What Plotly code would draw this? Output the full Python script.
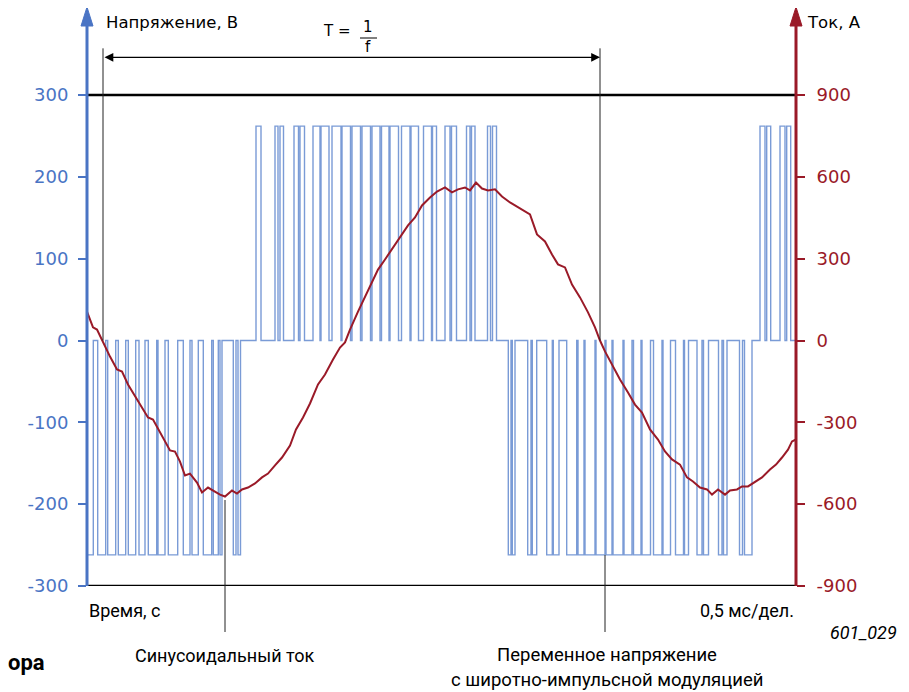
import plotly.graph_objects as go

# ---------------- data ----------------
# time axis in ms (0,5 ms per division); the plot spans 0 .. 7.09
T_MAX = 7.09

# sinusoidal current, A
current_t = [0.00, 0.06, 0.10, 0.16, 0.23, 0.30, 0.35, 0.41, 0.48, 0.53, 0.61, 0.66,
             0.73, 0.78, 0.83, 0.88, 0.93, 0.98, 1.03, 1.10, 1.15, 1.21, 1.28, 1.33,
             1.38, 1.45, 1.50, 1.55, 1.61, 1.68, 1.75, 1.81, 1.88, 1.95, 2.03, 2.09,
             2.16, 2.23, 2.31, 2.38, 2.46, 2.53, 2.58, 2.63, 2.71, 2.78, 2.85, 2.91,
             2.98, 3.05, 3.13, 3.21, 3.28, 3.35, 3.43, 3.50, 3.58, 3.65, 3.71, 3.78,
             3.83, 3.89, 3.95, 4.01, 4.08, 4.15, 4.23, 4.31, 4.38, 4.43, 4.50, 4.58,
             4.65, 4.71, 4.78, 4.85, 4.93, 5.01, 5.08, 5.13, 5.18, 5.25, 5.33, 5.41,
             5.48, 5.55, 5.63, 5.71, 5.78, 5.85, 5.93, 6.00, 6.06, 6.13, 6.20, 6.25,
             6.31, 6.38, 6.43, 6.50, 6.55, 6.61, 6.68, 6.75, 6.83, 6.89, 6.95, 7.01,
             7.05, 7.09]
current_a = [106, 48, 40, -7, -59, -106, -114, -161, -205, -235, -282, -290,
             -337, -367, -403, -407, -444, -495, -488, -521, -557, -539, -554, -565,
             -572, -550, -561, -546, -539, -524, -502, -488, -458, -429, -385, -326,
             -282, -231, -161, -125, -70, -26, -7, 40, 106, 158, 213, 260,
             297, 334, 378, 422, 451, 495, 524, 546, 561, 543, 554, 561,
             550, 579, 557, 550, 554, 528, 506, 488, 473, 462, 389, 363,
             315, 279, 268, 205, 158, 103, 48, 0, -40, -88, -143, -191,
             -235, -264, -326, -363, -407, -436, -455, -502, -517, -539, -546, -565,
             -546, -565, -550, -546, -535, -535, -517, -502, -473, -455, -429, -400,
             -370, -363]

# PWM voltage pulses: start, end (ms) and level (V)
pulse_start = [0.000, 0.107, 0.207, 0.313, 0.413, 0.520, 0.613, 0.710, 0.813, 0.963,
               1.050, 1.163, 1.263, 1.330, 1.463, 1.510,
               1.690, 1.880, 1.930, 2.070, 2.130, 2.260, 2.340, 2.450, 2.550, 2.650,
               2.750, 2.850, 2.945, 3.030, 3.145, 3.240, 3.365, 3.455, 3.580, 3.645,
               3.795, 3.845, 4.005, 4.055,
               4.213, 4.253, 4.407, 4.453, 4.597, 4.663, 4.797, 4.910, 4.980, 5.090,
               5.190, 5.260, 5.370, 5.465, 5.550, 5.665, 5.760, 5.885, 5.975, 6.100,
               6.165, 6.315, 6.365, 6.525, 6.575,
               6.730, 6.797, 6.930, 6.997]
pulse_end = [0.063, 0.187, 0.287, 0.387, 0.487, 0.580, 0.697, 0.780, 0.907, 1.030,
             1.113, 1.247, 1.313, 1.350, 1.490, 1.535,
             1.740, 1.910, 1.965, 2.115, 2.175, 2.330, 2.420, 2.540, 2.635, 2.735,
             2.835, 2.930, 3.020, 3.115, 3.230, 3.315, 3.445, 3.495, 3.630, 3.695,
             3.830, 3.880, 4.035, 4.095,
             4.240, 4.280, 4.440, 4.497, 4.653, 4.720, 4.897, 4.970, 5.080, 5.180,
             5.250, 5.360, 5.450, 5.540, 5.635, 5.750, 5.835, 5.965, 6.015, 6.150,
             6.215, 6.350, 6.400, 6.555, 6.650,
             6.780, 6.837, 6.980, 7.037]
pulse_level = [-262] * 16 + [262] * 24 + [-262] * 25 + [262] * 4

volt_ticks = [-300, -200, -100, 0, 100, 200, 300]
amp_ticks = [-900, -600, -300, 0, 300, 600, 900]

# ---------------- build PWM step line ----------------
pwm_x, pwm_y = [0.0], [0]
for s, e, lv in zip(pulse_start, pulse_end, pulse_level):
    pwm_x += [s, s, e, e]
    pwm_y += [0, lv, lv, 0]
pwm_x.append(T_MAX)
pwm_y.append(0)

BLUE = "#4a74c4"
BLUE_LINE = "#7a9bd6"
RED = "#9a1a28"
FONT = "DejaVu Sans"
FONT2 = "Roboto"

fig = go.Figure()
fig.add_trace(go.Scatter(x=pwm_x, y=pwm_y, mode="lines",
                         line=dict(color=BLUE_LINE, width=1.4),
                         hoverinfo="skip", showlegend=False, yaxis="y"))
fig.add_trace(go.Scatter(x=current_t, y=current_a, mode="lines",
                         line=dict(color=RED, width=2),
                         hoverinfo="skip", showlegend=False, yaxis="y2"))

# page is drawn with an 8 px body margin; plot area on page: x 87..796, y 8..586
Y_TOP = 406.3
fig.update_layout(
    width=901, height=684,
    margin=dict(l=79, r=113, t=0, b=106),
    paper_bgcolor="white", plot_bgcolor="white",
    xaxis=dict(range=[0, T_MAX], showgrid=False, zeroline=False,
               showticklabels=False, ticks="", showline=False, fixedrange=True),
    yaxis=dict(range=[-300, Y_TOP], tickvals=volt_ticks,
               ticktext=[str(v) for v in volt_ticks],
               showgrid=False, zeroline=False, showline=False,
               ticks="outside", ticklen=8, tickwidth=2, tickcolor=BLUE,
               tickfont=dict(family=FONT, size=18, color=BLUE),
               ticklabelstandoff=6),
    yaxis2=dict(range=[-900, 3 * Y_TOP], tickvals=amp_ticks,
                ticktext=[str(v) for v in amp_ticks],
                overlaying="y", side="right",
                showgrid=False, zeroline=False, showline=False,
                ticks="outside", ticklen=8, tickwidth=2, tickcolor=RED,
                tickfont=dict(family=FONT, size=18, color=RED),
                ticklabelstandoff=8),
)

# helpers: page pixel -> paper coordinates
def px(xp):
    return (xp - 87) / 709.0

def py(yp):
    return (586 - yp) / 578.0

shapes = []
shapes.append(dict(type="line", xref="paper", yref="y", x0=0, x1=1, y0=300, y1=300,
                   line=dict(color="black", width=2.5)))
shapes.append(dict(type="line", xref="paper", yref="y", x0=0, x1=1, y0=-300, y1=-300,
                   line=dict(color="black", width=2.5)))
shapes.append(dict(type="line", xref="paper", yref="paper", x0=0, x1=0,
                   y0=0, y1=py(24), line=dict(color=BLUE, width=3)))
hw = 6 / 709.0
shapes.append(dict(type="path", xref="paper", yref="paper",
                   path=f"M {-hw},{py(26)} L {hw},{py(26)} L 0,{py(7)} Z",
                   fillcolor=BLUE, line=dict(color=BLUE, width=1)))
shapes.append(dict(type="line", xref="paper", yref="paper", x0=1, x1=1,
                   y0=0, y1=py(24), line=dict(color=RED, width=3)))
shapes.append(dict(type="path", xref="paper", yref="paper",
                   path=f"M {1 - hw},{py(26)} L {1 + hw},{py(26)} L 1,{py(7)} Z",
                   fillcolor=RED, line=dict(color=RED, width=1)))
for xv in (0.16, 5.13):
    shapes.append(dict(type="line", xref="x", yref="y", x0=xv, x1=xv, y0=0, y1=357,
                       line=dict(color="#222222", width=1)))
shapes.append(dict(type="line", xref="paper", yref="paper", x0=px(360), x1=px(377),
                   y0=py(38), y1=py(38), line=dict(color="black", width=1)))
shapes.append(dict(type="line", xref="paper", yref="paper", x0=px(225), x1=px(225),
                   y0=py(500), y1=py(632), line=dict(color="#222222", width=1)))
shapes.append(dict(type="line", xref="paper", yref="paper", x0=px(605), x1=px(605),
                   y0=py(555), y1=py(632), line=dict(color="#222222", width=1)))
fig.update_layout(shapes=shapes)

ann = []
ann.append(dict(x=5.13, y=346, ax=0.16, ay=346, xref="x", yref="y",
                axref="x", ayref="y", text="", showarrow=True,
                arrowhead=2, arrowside="end+start", arrowsize=1.6,
                arrowwidth=1.1, arrowcolor="black", standoff=0, startstandoff=0))

def label(text, x, y, xanchor="left", size=16, family=FONT, color="black"):
    ann.append(dict(text=text, x=x, y=y, xref="paper", yref="paper",
                    xanchor=xanchor, yanchor="middle", showarrow=False,
                    font=dict(family=family, size=size, color=color)))

label("Напряжение, В", px(104), py(22), size=16.5)
label("Ток, А", px(805), py(22), size=16.5)
label("T =", px(337), py(31), xanchor="center", size=15)
label("1", px(368), py(27), xanchor="center", size=15)
label("f", px(368), py(47), xanchor="center", size=15)
label("Время, с", px(87), py(610), size=18, family=FONT2)
label("0,5 мс/дел.", px(796), py(610), xanchor="right", size=18, family=FONT2)
label("<i>601_029</i>", px(899), py(632), xanchor="right", size=18, family=FONT2)
label("Синусоидальный ток", px(225), py(655), xanchor="center", size=18, family=FONT2)
label("Переменное напряжение", px(607), py(655), xanchor="center", size=18.5, family=FONT2)
label("с широтно-импульсной модуляцией", px(607), py(680), xanchor="center",
      size=18.5, family=FONT2)
label("<b>ора</b>", px(6), py(662), size=22, family=FONT2)
fig.update_layout(annotations=ann)

fig.write_html("out.html")
